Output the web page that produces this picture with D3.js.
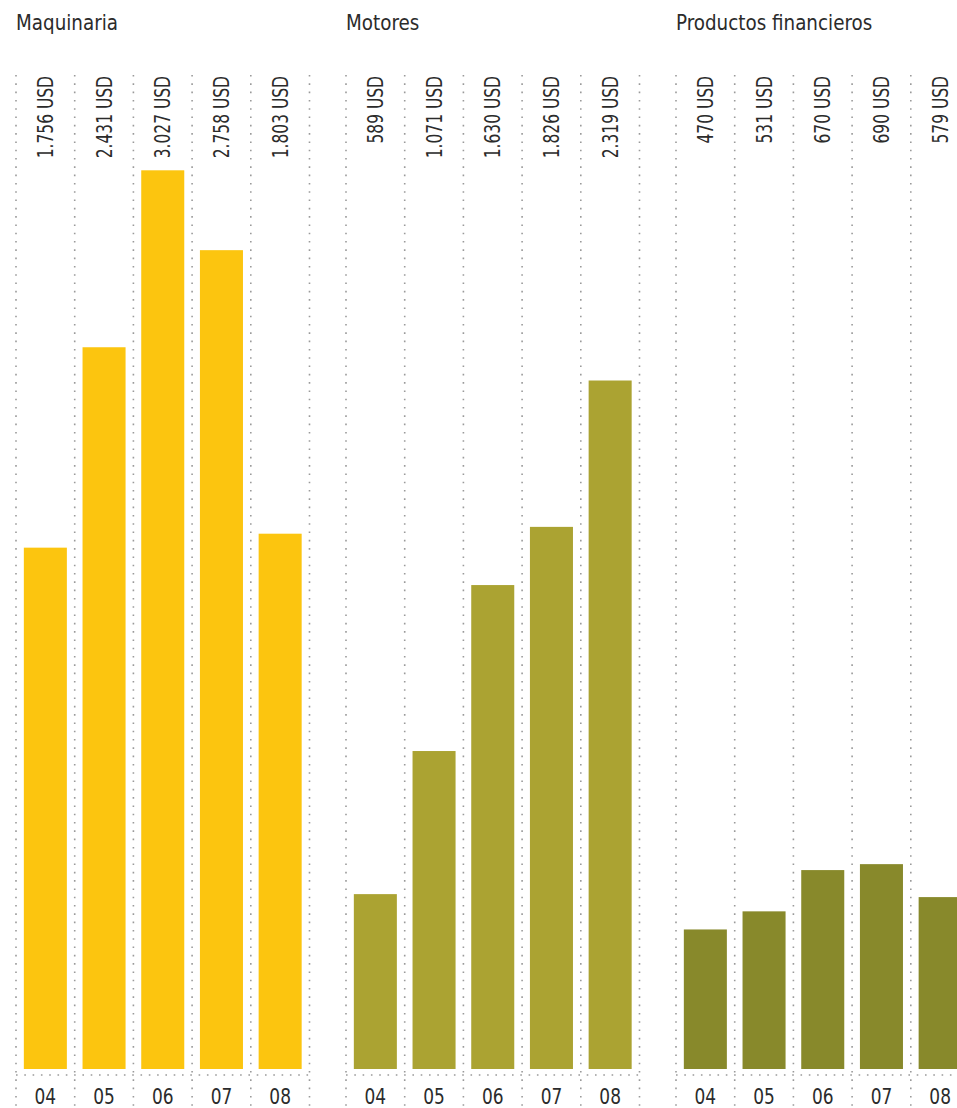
<!DOCTYPE html>
<head>
<meta charset="utf-8">
<title>Ventas por segmento</title>
<script type="text/javascript" src="https://d3js.org/d3.v7.min.js"></script>
<style>
body { margin: 0; background: #fff; }
text {
  font-family: "Liberation Sans Narrow", "DejaVu Sans Condensed", "Roboto", sans-serif;
  fill: #2b2b2b;
}
.title { font-size: 21px; }
.value { font-size: 21px; }
.year { font-size: 21px; }
.grid {
  stroke: #9a9a9a;
  stroke-width: 1.6;
  stroke-dasharray: 1.6 6.7;
  fill: none;
}
</style>
</head>
<body>
<div id="container"></div>
<script>
//----------------------------DATA------------------------------//
const years = ["04", "05", "06", "07", "08"];
const panels = ["Maquinaria", "Motores", "Productos financieros"];
const maquinaria = [1756, 2431, 3027, 2758, 1803];
const motores = [589, 1071, 1630, 1826, 2319];
const financieros = [470, 531, 670, 690, 579];
const colors = ["#fcc50f", "#aba332", "#88892b"];

const series = [maquinaria, motores, financieros];

//----------------------------SVG-------------------------------//
const width = 957;
const height = 1108;
const left = 16;
const panelStep = 330;
const panelWidth = 293.5;
const plotTop = 75;
const base = 1069;
const axisY = 1075;

const svg = d3.select("div#container").append("svg")
    .attr("width", width)
    .attr("height", height);

//---------------------------SCALES-----------------------------//
const xPanel = d3.scaleBand()
    .domain(panels)
    .range([left, left + panelStep * panels.length]);

const xGrid = d3.scaleBand()
    .domain(years)
    .range([0, panelWidth]);

const xBar = d3.scaleBand()
    .domain(years)
    .range([0, panelWidth])
    .paddingInner(0.267)
    .paddingOuter(0.1335);

const yScale = d3.scaleLinear()
    .domain([0, 3348])
    .range([base, plotTop]);

// spanish style thousands: 1.756
const fmt = d3.formatLocale({decimal: ",", thousands: ".", grouping: [3], currency: ["", ""]}).format(",");

//---------------------------DRAWING----------------------------//
const g = svg.selectAll("g.panel")
    .data(panels)
    .enter()
    .append("g")
    .attr("class", "panel")
    .attr("transform", d => "translate(" + xPanel(d) + ",0)");

g.append("text")
    .attr("class", "title")
    .attr("transform", "translate(0,30) scale(0.97,1)")
    .text(d => d);

g.each(function(p, i) {
    const sel = d3.select(this);
    const edges = years.map(y => xGrid(y)).concat([panelWidth]);

    // vertical dotted grid
    sel.selectAll("line.v")
        .data(edges)
        .enter()
        .append("line")
        .attr("class", "grid")
        .attr("x1", d => d)
        .attr("x2", d => d)
        .attr("y1", plotTop)
        .attr("y2", height);

    // dotted baseline
    sel.append("line")
        .attr("class", "grid")
        .attr("x1", 0)
        .attr("x2", panelWidth)
        .attr("y1", axisY)
        .attr("y2", axisY);

    const vals = years.map((y, k) => ({year: y, value: series[i][k]}));

    sel.selectAll("rect")
        .data(vals)
        .enter()
        .append("rect")
        .attr("x", d => xBar(d.year))
        .attr("width", xBar.bandwidth())
        .attr("y", d => yScale(d.value))
        .attr("height", d => base - yScale(d.value))
        .attr("fill", colors[i]);

    // rotated value labels, squeezed to look condensed
    sel.selectAll("text.value")
        .data(vals)
        .enter()
        .append("text")
        .attr("class", "value")
        .attr("transform", d => "translate(" + (xGrid(d.year) + xGrid.bandwidth() / 2) + "," + (plotTop + 1) + ") rotate(-90) scale(0.82,1)")
        .attr("dy", "0.36em")
        .style("text-anchor", "end")
        .text(d => fmt(d.value) + " USD");

    sel.selectAll("text.year")
        .data(vals)
        .enter()
        .append("text")
        .attr("class", "year")
        .attr("transform", d => "translate(" + (xGrid(d.year) + xGrid.bandwidth() / 2) + ",1104) scale(0.9,1)")
        .style("text-anchor", "middle")
        .text(d => d.year);
});
</script>
</body>
